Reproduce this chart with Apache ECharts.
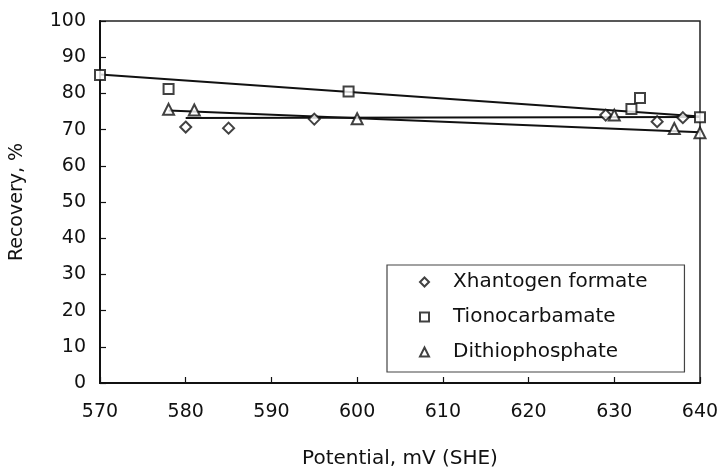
<!DOCTYPE html>
<html>
<head>
<meta charset="utf-8">
<script src="https://cdn.jsdelivr.net/npm/echarts@6/dist/echarts.min.js"></script>
<style>
  html, body { margin: 0; padding: 0; background: #fff; }
  #chart { width: 720px; height: 472px; }
</style>
</head>
<body>
<div id="chart"></div>
<script>
// Flotation recovery against pulp potential for three collectors
const xTicks = [570, 580, 590, 600, 610, 620, 630, 640];
const yTicks = [0, 10, 20, 30, 40, 50, 60, 70, 80, 90, 100];

const seriesNames = ['Xhantogen formate', 'Tionocarbamate', 'Dithiophosphate'];

// measured points: potential (mV SHE) and recovery (%)
const xanX = [580, 585, 595, 629, 635, 638];
const xanY = [70.7, 70.4, 72.9, 74.0, 72.2, 73.3];

const tioX = [570, 578, 599, 632, 633, 640];
const tioY = [85.1, 81.2, 80.5, 75.7, 78.7, 73.4];

const dtpX = [578, 581, 600, 630, 637, 640];
const dtpY = [75.6, 75.4, 73.0, 74.0, 70.3, 69.1];

// straight trend lines, end points
const xanFitX = [580, 640];
const xanFitY = [73.2, 73.5];
const tioFitX = [570, 640];
const tioFitY = [85.2, 73.6];
const dtpFitX = [578, 640];
const dtpFitY = [75.3, 69.3];

const pairs = (xs, ys) => xs.map((x, i) => [x, ys[i]]);

const FONT = 'DejaVu Sans';
const hollow = { color: '#ffffff', borderColor: '#111', borderWidth: 2 };

function scatter(name, symbol, size, xs, ys) {
  return {
    name, type: 'scatter', symbol, symbolSize: size,
    itemStyle: hollow, data: pairs(xs, ys), z: 5,
    emphasis: { disabled: true }
  };
}
function fit(name, xs, ys) {
  return {
    name, type: 'line', symbol: 'none', silent: true,
    lineStyle: { color: '#111', width: 2 },
    data: pairs(xs, ys), z: 3
  };
}

const chart = echarts.init(document.getElementById('chart'), null, { renderer: 'canvas' });
chart.setOption({
  animation: false,
  backgroundColor: '#fff',
  textStyle: { fontFamily: FONT, color: '#111' },
  grid: {
    left: 100, right: 20, top: 21, bottom: 89,
    containLabel: false, outerBoundsMode: 'none',
    show: true, borderColor: '#222', borderWidth: 1.5, backgroundColor: 'transparent'
  },
  legend: {
    orient: 'vertical', left: 387, top: 265,
    data: [
      { name: seriesNames[0], icon: 'diamond' },
      { name: seriesNames[1], icon: 'rect' },
      { name: seriesNames[2], icon: 'triangle' }
    ],
    itemWidth: 9, itemHeight: 9, itemGap: 15,
    padding: [7, 37, 10, 32],
    borderColor: '#444', borderWidth: 1.2,
    backgroundColor: '#fff',
    selectedMode: false,
    textStyle: { fontFamily: FONT, fontSize: 20, color: '#111', padding: [0, 0, 0, 19] }
  },
  xAxis: {
    type: 'value', min: xTicks[0], max: xTicks[xTicks.length - 1], interval: 10,
    name: 'Potential, mV (SHE)', nameLocation: 'middle', nameGap: 66,
    nameTextStyle: { fontFamily: FONT, fontSize: 20, color: '#111' },
    axisLine: { lineStyle: { color: '#111', width: 2 } },
    axisTick: { inside: true, length: 6, lineStyle: { color: '#111', width: 1.2 } },
    axisLabel: { margin: 20, fontFamily: FONT, fontSize: 19, color: '#111' },
    splitLine: { show: false }
  },
  yAxis: {
    type: 'value', min: yTicks[0], max: yTicks[yTicks.length - 1], interval: 10,
    name: 'Recovery, %', nameLocation: 'middle', nameGap: 73,
    nameTextStyle: { fontFamily: FONT, fontSize: 19, color: '#111' },
    axisLine: { show: true, lineStyle: { color: '#111', width: 2 } },
    axisTick: { show: true, inside: true, length: 6, lineStyle: { color: '#111', width: 1.2 } },
    axisLabel: { margin: 14, fontFamily: FONT, fontSize: 19, color: '#111' },
    splitLine: { show: false }
  },
  series: [
    fit(seriesNames[0] + ' trend', xanFitX, xanFitY),
    fit(seriesNames[1] + ' trend', tioFitX, tioFitY),
    fit(seriesNames[2] + ' trend', dtpFitX, dtpFitY),
    scatter(seriesNames[0], 'diamond', 11, xanX, xanY),
    scatter(seriesNames[1], 'rect', 10, tioX, tioY),
    scatter(seriesNames[2], 'triangle', 11, dtpX, dtpY)
  ]
});
</script>
</body>
</html>
